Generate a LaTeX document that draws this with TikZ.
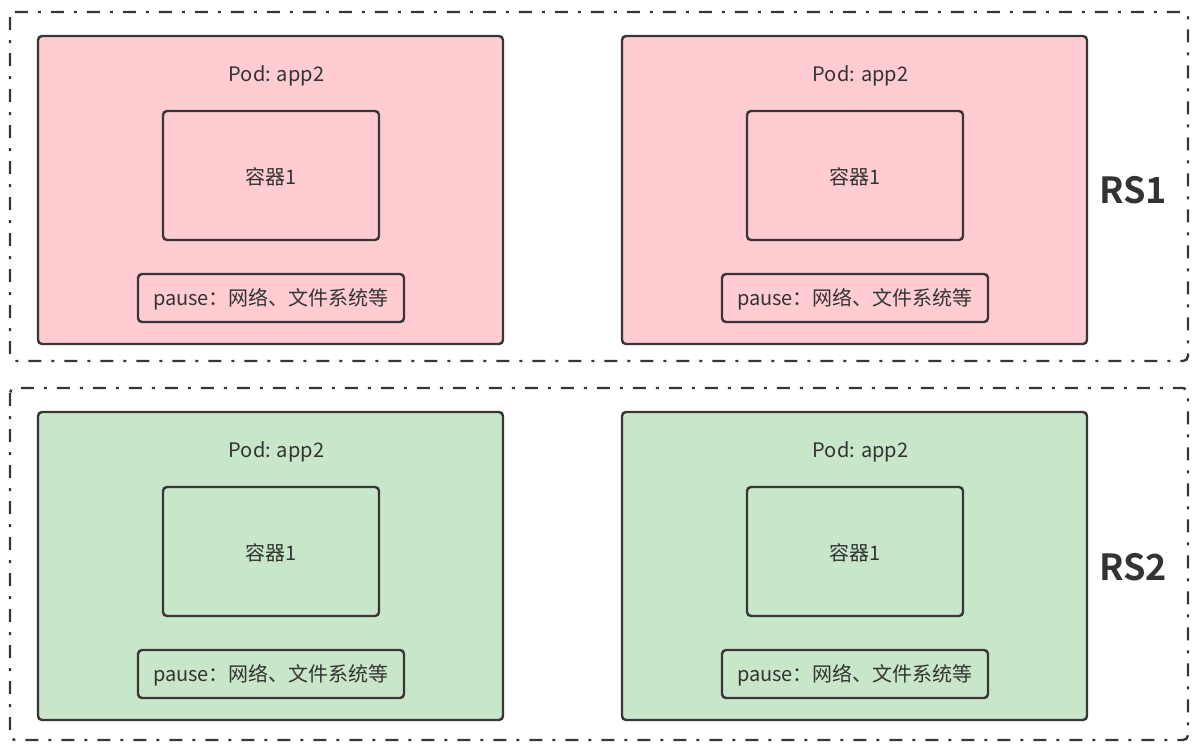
\documentclass[tikz,border=0pt]{standalone}
\usepackage{fontspec}
\setmainfont{Noto Sans CJK SC}
\newfontfamily\cjkbold{Noto Sans CJK SC Bold}
\definecolor{podred}{HTML}{FFCCD1}
\definecolor{podgreen}{HTML}{C8E6C9}
\definecolor{edge}{HTML}{3A3636}
\definecolor{txt}{HTML}{333333}
\begin{document}
\begin{tikzpicture}[x=1pt,y=-1pt,
  group/.style={draw=edge,line width=2.4pt,rounded corners=5pt,dash pattern=on 13pt off 10pt on 3pt off 10pt},
  pod/.style={draw=edge,line width=2.4pt,rounded corners=4pt},
  inner/.style={draw=edge,line width=2.4pt,rounded corners=4pt},
  lbl/.style={text=txt,font=\fontsize{20}{24}\selectfont,inner sep=0pt},
  rslbl/.style={text=txt,font=\cjkbold\fontsize{36}{42}\selectfont,inner sep=0pt}]
\useasboundingbox (0,0) rectangle (1197,747);
% groups
\draw[group] (10,12) rectangle (1188,361);
\draw[group] (10,388) rectangle (1188,740);
% pods
\foreach \px/\name in {38/a,622/b}{
  \begin{scope}[xshift=\px pt]
  \draw[pod,fill=podred] (0,36) rectangle (465,344);
  \node[lbl] (pod1\name) at (238.5,76) {Pod: app2};
  \draw[inner] (125,111) rectangle (341,240);
  \node[lbl] (c1\name) at (233,177) {容器1};
  \draw[inner] (100,274) rectangle (366,322);
  \node[lbl] (p1\name) at (233,299) {pause：网络、文件系统等};
  \end{scope}
  \begin{scope}[xshift=\px pt,yshift=-376pt]
  \draw[pod,fill=podgreen] (0,36) rectangle (465,344);
  \node[lbl] (pod2\name) at (238.5,76) {Pod: app2};
  \draw[inner] (125,111) rectangle (341,240);
  \node[lbl] (c2\name) at (233,177) {容器1};
  \draw[inner] (100,274) rectangle (366,322);
  \node[lbl] (p2\name) at (233,299) {pause：网络、文件系统等};
  \end{scope}
}
\node[rslbl] (rs1) at (1133,190) {RS1};
\node[rslbl] (rs2) at (1133,567) {RS2};
\end{tikzpicture}
\end{document}
